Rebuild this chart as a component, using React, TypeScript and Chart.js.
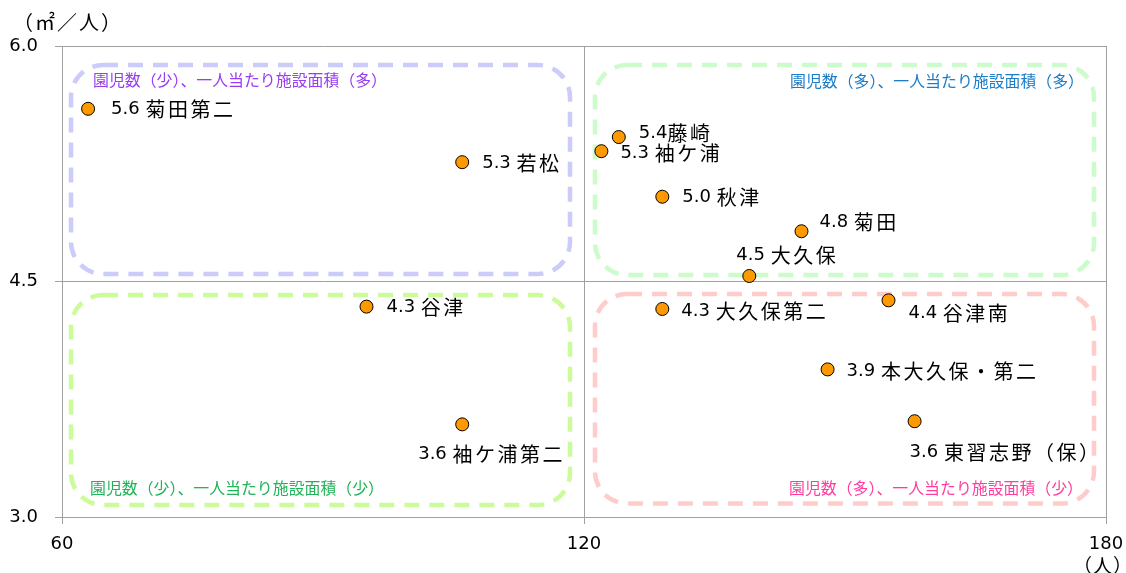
import React, { useEffect, useRef } from 'react';
import { Chart, registerables } from 'chart.js';

Chart.register(...registerables);

// ---- data ----
const facilities = ['菊田第二', '若松', '藤崎', '袖ケ浦', '秋津', '菊田', '大久保', '大久保第二', '谷津南', '本大久保・第二', '東習志野（保）', '谷津', '袖ケ浦第二'];
const childrenCount = [63, 106, 124, 122, 129, 145, 139, 129, 155, 148, 158, 95, 106];
const areaPerChild = [5.6, 5.26, 5.42, 5.33, 5.04, 4.82, 4.535, 4.325, 4.38, 3.94, 3.61, 4.34, 3.59];
const xTicks = [60, 120, 180];
const yTicks = [3.0, 4.5, 6.0];
const quadrantTitles = [
  '園児数（少）、一人当たり施設面積（多）',
  '園児数（多）、一人当たり施設面積（多）',
  '園児数（少）、一人当たり施設面積（少）',
  '園児数（多）、一人当たり施設面積（少）',
];
const yUnit = '（㎡／人）';
const xUnit = '（人）';
const noSpaceLabels = ['藤崎'];

// ---- styles / placement ----
const labelOffsets: Record<string, [number, number]> = {
  '菊田第二': [23, 1],
  '藤崎': [20, -4],
  '袖ケ浦': [19, 2],
  '菊田': [18, -9],
  '大久保': [-13, -21],
  '大久保第二': [19, 2],
  '谷津南': [20, 13],
  '本大久保・第二': [19, 2],
  '東習志野（保）': [-5, 31],
  '袖ケ浦第二': [-44, 30],
};
const defaultOffset: [number, number] = [20, 1];

type QuadStyle = {
  stroke: string; text: string; inset: [number, number, number, number];
  align: 'left' | 'right'; tx: number; ty: number;
};
const quadStyles: QuadStyle[] = [
  { stroke: '#ccccfa', text: '#9a3cf2', inset: [9, 19, 14, 7.5], align: 'left', tx: 31, ty: 34 },
  { stroke: '#ccfccc', text: '#1b7cc8', inset: [11, 19, 12, 6.5], align: 'right', tx: 22, ty: 35 },
  { stroke: '#ccfc9a', text: '#1fb457', inset: [9, 13.5, 14, 12], align: 'left', tx: 28, ty: -29 },
  { stroke: '#ffcccc', text: '#ff3d9e', inset: [11, 12.5, 12, 13.5], align: 'right', tx: 23, ty: -29 },
];

const CJK = '"Noto Sans CJK JP"';
const NUM = '"DejaVu Sans"';

function roundRect(ctx: CanvasRenderingContext2D, x: number, y: number, w: number, h: number, r: number) {
  ctx.beginPath();
  ctx.moveTo(x + r, y);
  ctx.lineTo(x + w - r, y);
  ctx.arcTo(x + w, y, x + w, y + r, r);
  ctx.lineTo(x + w, y + h - r);
  ctx.arcTo(x + w, y + h, x + w - r, y + h, r);
  ctx.lineTo(x + r, y + h);
  ctx.arcTo(x, y + h, x, y + h - r, r);
  ctx.lineTo(x, y + r);
  ctx.arcTo(x, y, x + r, y, r);
  ctx.closePath();
}

const decorPlugin = {
  id: 'decor',
  beforeDatasetsDraw(chart: any) {
    const { ctx } = chart;
    const xs = chart.scales.x;
    const ys = chart.scales.y;
    const xEdges = [xs.getPixelForValue(xTicks[0]), xs.getPixelForValue(xTicks[1]), xs.getPixelForValue(xTicks[2])];
    const yEdges = [ys.getPixelForValue(yTicks[2]), ys.getPixelForValue(yTicks[1]), ys.getPixelForValue(yTicks[0])];
    quadStyles.forEach((q, i) => {
      const col = i % 2;
      const row = Math.floor(i / 2);
      const l = xEdges[col], r = xEdges[col + 1];
      const t = yEdges[row], b = yEdges[row + 1];
      ctx.save();
      ctx.strokeStyle = q.stroke;
      ctx.lineWidth = 4.5;
      ctx.setLineDash([15, 10]);
      const rx = l + q.inset[0], ry = t + q.inset[1];
      const rw = r - q.inset[2] - rx, rh = b - q.inset[3] - ry;
      roundRect(ctx, rx, ry, rw, rh, 32);
      ctx.stroke();
      ctx.setLineDash([]);
      ctx.fillStyle = q.text;
      ctx.font = `15.9px ${CJK}`;
      ctx.textBaseline = 'middle';
      ctx.textAlign = q.align;
      const tx = q.align === 'left' ? l + q.tx : r - q.tx;
      const ty = q.ty >= 0 ? t + q.ty : b + q.ty;
      ctx.fillText(quadrantTitles[i], tx, ty);
      ctx.restore();
    });
  },
  afterDatasetsDraw(chart: any) {
    const { ctx } = chart;
    const xs = chart.scales.x;
    const ys = chart.scales.y;
    ctx.save();
    ctx.fillStyle = '#000';
    ctx.textBaseline = 'middle';
    ctx.textAlign = 'left';
    facilities.forEach((name, i) => {
      const px = xs.getPixelForValue(childrenCount[i]);
      const py = ys.getPixelForValue(areaPerChild[i]);
      const [dx, dy] = labelOffsets[name] || defaultOffset;
      const num = areaPerChild[i].toFixed(1) + (noSpaceLabels.includes(name) ? '' : ' ');
      ctx.font = `18px ${NUM}`;
      (ctx as any).letterSpacing = '0px';
      ctx.fillText(num, px + dx, py + dy);
      const w = ctx.measureText(num).width;
      ctx.font = `20px ${CJK}`;
      (ctx as any).letterSpacing = '2.5px';
      ctx.fillText(name, px + dx + w, py + dy);
    });
    ctx.restore();
  },
  afterDraw(chart: any) {
    const { ctx } = chart;
    const xs = chart.scales.x;
    ctx.save();
    ctx.fillStyle = '#000';
    ctx.textBaseline = 'middle';
    ctx.font = `20px ${CJK}`;
    (ctx as any).letterSpacing = '2px';
    ctx.textAlign = 'left';
    ctx.fillText(yUnit, 13, 22);
    ctx.font = `19px ${CJK}`;
    (ctx as any).letterSpacing = '1px';
    ctx.textAlign = 'center';
    ctx.fillText(xUnit, xs.getPixelForValue(xTicks[2]) - 3, 566);
    ctx.restore();
  },
};

export default function App() {
  const ref = useRef<HTMLCanvasElement | null>(null);
  useEffect(() => {
    if (!ref.current) return;
    const chart = new Chart(ref.current, {
      type: 'scatter',
      data: {
        datasets: [
          {
            data: childrenCount.map((x, i) => ({ x, y: areaPerChild[i] })),
            backgroundColor: '#ff9900',
            borderColor: '#000000',
            borderWidth: 1,
            pointRadius: 6.5,
            pointHoverRadius: 6.5,
          },
        ],
      },
      options: {
        animation: false,
        responsive: false,
        devicePixelRatio: 1,
        layout: { padding: { top: 46, right: 20, left: 0, bottom: 0 } },
        plugins: { legend: { display: false }, tooltip: { enabled: false } },
        scales: {
          x: {
            type: 'linear',
            min: 60,
            max: 180,
            afterBuildTicks: (s: any) => { s.ticks = xTicks.map((v) => ({ value: v })); },
            afterFit: (s: any) => { s.height = 56; s.paddingRight = 0; s.paddingLeft = 0; },
            ticks: { font: { family: 'DejaVu Sans', size: 18 }, color: '#000', padding: 10, maxRotation: 0, autoSkip: false },
            grid: { color: '#a0a0a0', tickLength: 7, lineWidth: 1 },
            border: { color: '#a0a0a0' },
          },
          y: {
            type: 'linear',
            min: 3,
            max: 6,
            afterBuildTicks: (s: any) => { s.ticks = yTicks.map((v) => ({ value: v })); },
            afterFit: (s: any) => { s.width = 62; s.paddingTop = 0; s.paddingBottom = 0; },
            ticks: {
              font: { family: 'DejaVu Sans', size: 18 },
              color: '#000',
              padding: 17,
              callback: (v: any) => Number(v).toFixed(1),
            },
            grid: { color: '#a0a0a0', tickLength: 7, lineWidth: 1 },
            border: { color: '#a0a0a0' },
          },
        },
      },
      plugins: [decorPlugin],
    });
    return () => chart.destroy();
  }, []);
  return (
    <div style={{ position: 'fixed', left: 0, top: 0, width: 1126, height: 573, background: '#fff' }}>
      <canvas ref={ref} width={1126} height={573} />
    </div>
  );
}
